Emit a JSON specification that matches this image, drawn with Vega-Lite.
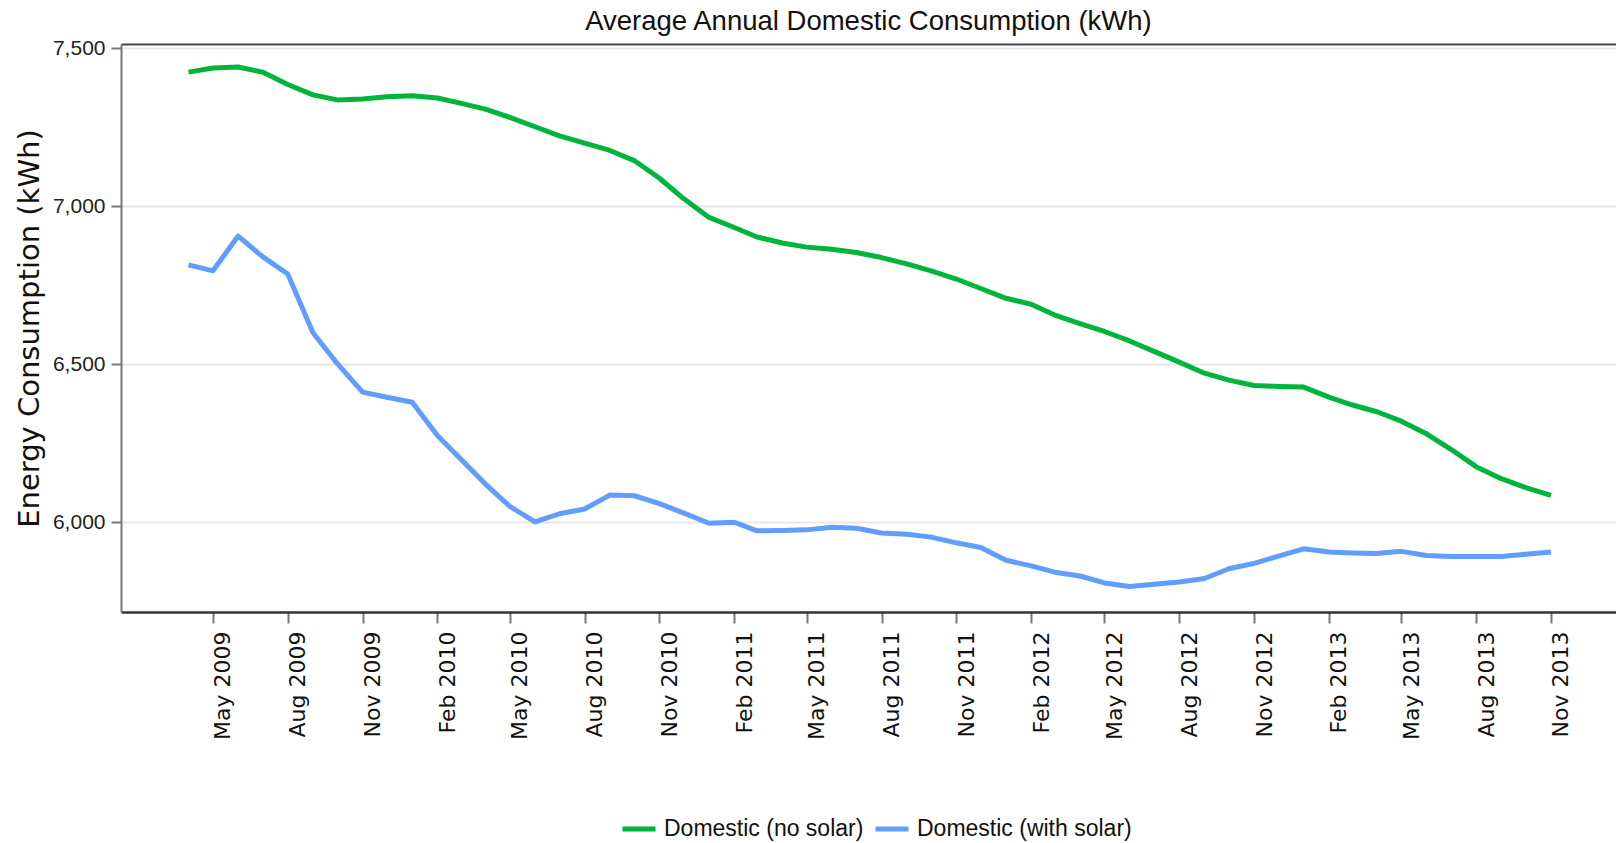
{
  "$schema": "https://vega.github.io/schema/vega-lite/v6.json",
  "autosize": {"type": "none"},
  "padding": {"left": 121, "top": 44, "right": 0, "bottom": 231},
  "width": 1495,
  "height": 568,
  "background": "white",
  "title": {
    "text": "Average Annual Domestic Consumption (kWh)",
    "font": "Liberation Sans",
    "fontSize": 27.5,
    "fontWeight": "normal",
    "color": "#111111",
    "anchor": "middle",
    "baseline": "alphabetic",
    "offset": 12,
    "dy": 32
  },
  "config": {
    "view": {"stroke": null}
  },
  "data": {
    "values": [
      {"date": "2009-04-01", "series": "Domestic (no solar)", "kwh": 7425},
      {"date": "2009-05-01", "series": "Domestic (no solar)", "kwh": 7438},
      {"date": "2009-06-01", "series": "Domestic (no solar)", "kwh": 7441},
      {"date": "2009-07-01", "series": "Domestic (no solar)", "kwh": 7425},
      {"date": "2009-08-01", "series": "Domestic (no solar)", "kwh": 7386},
      {"date": "2009-09-01", "series": "Domestic (no solar)", "kwh": 7353},
      {"date": "2009-10-01", "series": "Domestic (no solar)", "kwh": 7337},
      {"date": "2009-11-01", "series": "Domestic (no solar)", "kwh": 7340},
      {"date": "2009-12-01", "series": "Domestic (no solar)", "kwh": 7347},
      {"date": "2010-01-01", "series": "Domestic (no solar)", "kwh": 7350},
      {"date": "2010-02-01", "series": "Domestic (no solar)", "kwh": 7343},
      {"date": "2010-03-01", "series": "Domestic (no solar)", "kwh": 7327},
      {"date": "2010-04-01", "series": "Domestic (no solar)", "kwh": 7308},
      {"date": "2010-05-01", "series": "Domestic (no solar)", "kwh": 7282},
      {"date": "2010-06-01", "series": "Domestic (no solar)", "kwh": 7252},
      {"date": "2010-07-01", "series": "Domestic (no solar)", "kwh": 7223},
      {"date": "2010-08-01", "series": "Domestic (no solar)", "kwh": 7200},
      {"date": "2010-09-01", "series": "Domestic (no solar)", "kwh": 7177},
      {"date": "2010-10-01", "series": "Domestic (no solar)", "kwh": 7145},
      {"date": "2010-11-01", "series": "Domestic (no solar)", "kwh": 7089},
      {"date": "2010-12-01", "series": "Domestic (no solar)", "kwh": 7024},
      {"date": "2011-01-01", "series": "Domestic (no solar)", "kwh": 6965},
      {"date": "2011-02-01", "series": "Domestic (no solar)", "kwh": 6933},
      {"date": "2011-03-01", "series": "Domestic (no solar)", "kwh": 6903},
      {"date": "2011-04-01", "series": "Domestic (no solar)", "kwh": 6884},
      {"date": "2011-05-01", "series": "Domestic (no solar)", "kwh": 6871},
      {"date": "2011-06-01", "series": "Domestic (no solar)", "kwh": 6864},
      {"date": "2011-07-01", "series": "Domestic (no solar)", "kwh": 6854},
      {"date": "2011-08-01", "series": "Domestic (no solar)", "kwh": 6838},
      {"date": "2011-09-01", "series": "Domestic (no solar)", "kwh": 6818},
      {"date": "2011-10-01", "series": "Domestic (no solar)", "kwh": 6796},
      {"date": "2011-11-01", "series": "Domestic (no solar)", "kwh": 6770},
      {"date": "2011-12-01", "series": "Domestic (no solar)", "kwh": 6740},
      {"date": "2012-01-01", "series": "Domestic (no solar)", "kwh": 6709},
      {"date": "2012-02-01", "series": "Domestic (no solar)", "kwh": 6690},
      {"date": "2012-03-01", "series": "Domestic (no solar)", "kwh": 6656},
      {"date": "2012-04-01", "series": "Domestic (no solar)", "kwh": 6629},
      {"date": "2012-05-01", "series": "Domestic (no solar)", "kwh": 6604},
      {"date": "2012-06-01", "series": "Domestic (no solar)", "kwh": 6574},
      {"date": "2012-07-01", "series": "Domestic (no solar)", "kwh": 6541},
      {"date": "2012-08-01", "series": "Domestic (no solar)", "kwh": 6507},
      {"date": "2012-09-01", "series": "Domestic (no solar)", "kwh": 6472},
      {"date": "2012-10-01", "series": "Domestic (no solar)", "kwh": 6450},
      {"date": "2012-11-01", "series": "Domestic (no solar)", "kwh": 6433},
      {"date": "2012-12-01", "series": "Domestic (no solar)", "kwh": 6430},
      {"date": "2013-01-01", "series": "Domestic (no solar)", "kwh": 6428},
      {"date": "2013-02-01", "series": "Domestic (no solar)", "kwh": 6396},
      {"date": "2013-03-01", "series": "Domestic (no solar)", "kwh": 6372},
      {"date": "2013-04-01", "series": "Domestic (no solar)", "kwh": 6350},
      {"date": "2013-05-01", "series": "Domestic (no solar)", "kwh": 6320},
      {"date": "2013-06-01", "series": "Domestic (no solar)", "kwh": 6280},
      {"date": "2013-07-01", "series": "Domestic (no solar)", "kwh": 6231},
      {"date": "2013-08-01", "series": "Domestic (no solar)", "kwh": 6176},
      {"date": "2013-09-01", "series": "Domestic (no solar)", "kwh": 6138},
      {"date": "2013-10-01", "series": "Domestic (no solar)", "kwh": 6110},
      {"date": "2013-11-01", "series": "Domestic (no solar)", "kwh": 6085},
      {"date": "2009-04-01", "series": "Domestic (with solar)", "kwh": 6815},
      {"date": "2009-05-01", "series": "Domestic (with solar)", "kwh": 6796},
      {"date": "2009-06-01", "series": "Domestic (with solar)", "kwh": 6906},
      {"date": "2009-07-01", "series": "Domestic (with solar)", "kwh": 6841},
      {"date": "2009-08-01", "series": "Domestic (with solar)", "kwh": 6786},
      {"date": "2009-09-01", "series": "Domestic (with solar)", "kwh": 6600},
      {"date": "2009-10-01", "series": "Domestic (with solar)", "kwh": 6502},
      {"date": "2009-11-01", "series": "Domestic (with solar)", "kwh": 6412},
      {"date": "2009-12-01", "series": "Domestic (with solar)", "kwh": 6396},
      {"date": "2010-01-01", "series": "Domestic (with solar)", "kwh": 6380},
      {"date": "2010-02-01", "series": "Domestic (with solar)", "kwh": 6275},
      {"date": "2010-03-01", "series": "Domestic (with solar)", "kwh": 6202},
      {"date": "2010-04-01", "series": "Domestic (with solar)", "kwh": 6121},
      {"date": "2010-05-01", "series": "Domestic (with solar)", "kwh": 6050},
      {"date": "2010-06-01", "series": "Domestic (with solar)", "kwh": 6001},
      {"date": "2010-07-01", "series": "Domestic (with solar)", "kwh": 6027},
      {"date": "2010-08-01", "series": "Domestic (with solar)", "kwh": 6042},
      {"date": "2010-09-01", "series": "Domestic (with solar)", "kwh": 6086},
      {"date": "2010-10-01", "series": "Domestic (with solar)", "kwh": 6084},
      {"date": "2010-11-01", "series": "Domestic (with solar)", "kwh": 6059},
      {"date": "2010-12-01", "series": "Domestic (with solar)", "kwh": 6029},
      {"date": "2011-01-01", "series": "Domestic (with solar)", "kwh": 5997},
      {"date": "2011-02-01", "series": "Domestic (with solar)", "kwh": 6000},
      {"date": "2011-03-01", "series": "Domestic (with solar)", "kwh": 5973},
      {"date": "2011-04-01", "series": "Domestic (with solar)", "kwh": 5974},
      {"date": "2011-05-01", "series": "Domestic (with solar)", "kwh": 5976},
      {"date": "2011-06-01", "series": "Domestic (with solar)", "kwh": 5984},
      {"date": "2011-07-01", "series": "Domestic (with solar)", "kwh": 5981},
      {"date": "2011-08-01", "series": "Domestic (with solar)", "kwh": 5966},
      {"date": "2011-09-01", "series": "Domestic (with solar)", "kwh": 5962},
      {"date": "2011-10-01", "series": "Domestic (with solar)", "kwh": 5953},
      {"date": "2011-11-01", "series": "Domestic (with solar)", "kwh": 5935},
      {"date": "2011-12-01", "series": "Domestic (with solar)", "kwh": 5920},
      {"date": "2012-01-01", "series": "Domestic (with solar)", "kwh": 5880},
      {"date": "2012-02-01", "series": "Domestic (with solar)", "kwh": 5862},
      {"date": "2012-03-01", "series": "Domestic (with solar)", "kwh": 5842},
      {"date": "2012-04-01", "series": "Domestic (with solar)", "kwh": 5830},
      {"date": "2012-05-01", "series": "Domestic (with solar)", "kwh": 5808},
      {"date": "2012-06-01", "series": "Domestic (with solar)", "kwh": 5797},
      {"date": "2012-07-01", "series": "Domestic (with solar)", "kwh": 5804},
      {"date": "2012-08-01", "series": "Domestic (with solar)", "kwh": 5811},
      {"date": "2012-09-01", "series": "Domestic (with solar)", "kwh": 5822},
      {"date": "2012-10-01", "series": "Domestic (with solar)", "kwh": 5853},
      {"date": "2012-11-01", "series": "Domestic (with solar)", "kwh": 5870},
      {"date": "2012-12-01", "series": "Domestic (with solar)", "kwh": 5893},
      {"date": "2013-01-01", "series": "Domestic (with solar)", "kwh": 5916},
      {"date": "2013-02-01", "series": "Domestic (with solar)", "kwh": 5906},
      {"date": "2013-03-01", "series": "Domestic (with solar)", "kwh": 5903},
      {"date": "2013-04-01", "series": "Domestic (with solar)", "kwh": 5901},
      {"date": "2013-05-01", "series": "Domestic (with solar)", "kwh": 5908},
      {"date": "2013-06-01", "series": "Domestic (with solar)", "kwh": 5895},
      {"date": "2013-07-01", "series": "Domestic (with solar)", "kwh": 5892},
      {"date": "2013-08-01", "series": "Domestic (with solar)", "kwh": 5892},
      {"date": "2013-09-01", "series": "Domestic (with solar)", "kwh": 5892},
      {"date": "2013-10-01", "series": "Domestic (with solar)", "kwh": 5899},
      {"date": "2013-11-01", "series": "Domestic (with solar)", "kwh": 5906}
    ]
  },
  "encoding": {
    "y": {
      "field": "kwh", "type": "quantitative",
      "scale": {"domain": [5716, 7514], "nice": false, "zero": false},
      "axis": {
        "title": "Energy Consumption (kWh)",
        "titleFont": "DejaVu Sans",
        "titleFontSize": 29,
        "titleFontWeight": "normal",
        "titleColor": "#111111",
        "titleX": -92,
        "titleY": 284,
        "titleAngle": -90,
        "titleAlign": "center",
        "titleBaseline": "middle",
        "values": [6000, 6500, 7000, 7500],
        "labelExpr": "format(datum.value, ',.0f')",
        "labelFont": "Liberation Sans",
        "labelFontSize": 21,
        "labelColor": "#222222",
        "labelPadding": 6,
        "tickSize": 10,
        "tickWidth": 2,
        "tickColor": "#777777",
        "domainColor": "#777777",
        "domainWidth": 2,
        "grid": true,
        "gridColor": "#e8e8e8",
        "gridWidth": 2
      }
    }
  },
  "resolve": {"axis": {"x": "independent"}},
  "layer": [
    {
      "mark": {"type": "line", "opacity": 0},
      "encoding": {
        "x": {
          "field": "date", "type": "temporal",
          "scale": {"type": "utc", "domain": [{"year": 2009, "month": 1, "date": 8, "utc": true}, {"year": 2014, "month": 1, "date": 20, "utc": true}]},
          "axis": {"orient": "top", "labels": false, "ticks": false, "grid": false, "title": null, "domain": true, "domainColor": "#444444", "domainWidth": 2}
        },
        "detail": {"field": "series"}
      }
    },
    {
      "mark": {"type": "line", "strokeWidth": 5, "strokeJoin": "round", "strokeCap": "butt"},
      "encoding": {
        "x": {
          "field": "date", "type": "temporal",
          "scale": {"type": "utc", "domain": [{"year": 2009, "month": 1, "date": 8, "utc": true}, {"year": 2014, "month": 1, "date": 20, "utc": true}]},
          "axis": {
            "orient": "bottom",
            "title": null,
            "grid": false,
            "values": [
              {"year": 2009, "month": 5, "date": 1, "utc": true},
              {"year": 2009, "month": 8, "date": 1, "utc": true},
              {"year": 2009, "month": 11, "date": 1, "utc": true},
              {"year": 2010, "month": 2, "date": 1, "utc": true},
              {"year": 2010, "month": 5, "date": 1, "utc": true},
              {"year": 2010, "month": 8, "date": 1, "utc": true},
              {"year": 2010, "month": 11, "date": 1, "utc": true},
              {"year": 2011, "month": 2, "date": 1, "utc": true},
              {"year": 2011, "month": 5, "date": 1, "utc": true},
              {"year": 2011, "month": 8, "date": 1, "utc": true},
              {"year": 2011, "month": 11, "date": 1, "utc": true},
              {"year": 2012, "month": 2, "date": 1, "utc": true},
              {"year": 2012, "month": 5, "date": 1, "utc": true},
              {"year": 2012, "month": 8, "date": 1, "utc": true},
              {"year": 2012, "month": 11, "date": 1, "utc": true},
              {"year": 2013, "month": 2, "date": 1, "utc": true},
              {"year": 2013, "month": 5, "date": 1, "utc": true},
              {"year": 2013, "month": 8, "date": 1, "utc": true},
              {"year": 2013, "month": 11, "date": 1, "utc": true}
            ],
            "labelExpr": "utcFormat(datum.value, '%b %Y')",
            "labelAngle": -90,
            "labelAlign": "right",
            "labelBaseline": "top",
            "labelFont": "DejaVu Sans",
            "labelFontSize": 22,
            "labelColor": "#111111",
            "labelPadding": 8,
            "labelOverlap": false,
            "labelFlush": false,
            "tickSize": 11,
            "tickWidth": 2,
            "tickColor": "#777777",
            "domainColor": "#333333",
            "domainWidth": 2.5
          }
        },
        "color": {
          "field": "series", "type": "nominal",
          "scale": {"domain": ["Domestic (no solar)", "Domestic (with solar)"], "range": ["#00b43c", "#619cff"]},
          "legend": {
            "orient": "none",
            "legendX": 499,
            "legendY": 766,
            "direction": "horizontal",
            "title": null,
            "labelFont": "Liberation Sans",
            "labelFontSize": 23,
            "labelColor": "#111111",
            "symbolType": "stroke",
            "symbolSize": 1089,
            "symbolStrokeWidth": 5,
            "labelOffset": 6,
            "columnPadding": 1,
            "labelLimit": 400
          }
        }
      }
    }
  ]
}
